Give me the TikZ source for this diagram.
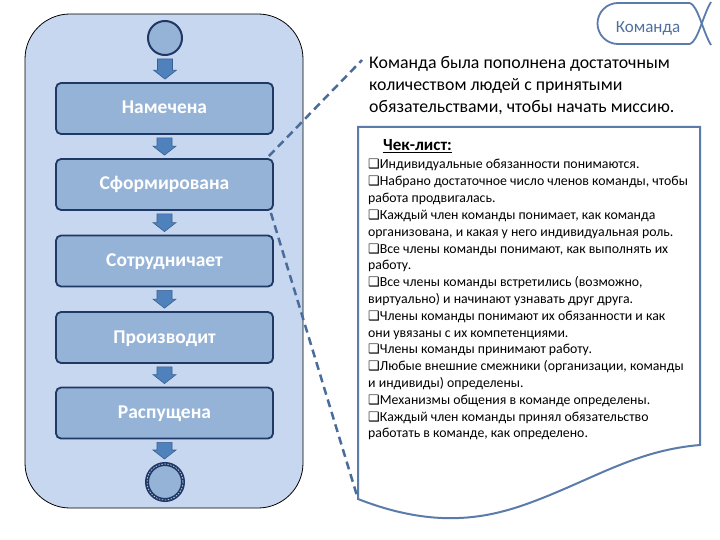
\documentclass[tikz,border=0pt]{standalone}
\usepackage{fontspec}
\setmainfont{Carlito}
\newfontfamily\dejavu{DejaVu Sans}
\usetikzlibrary{calc}
\definecolor{contfill}{HTML}{C6D7EF}
\definecolor{boxfill}{HTML}{95B3D7}
\definecolor{navy}{HTML}{1F3864}
\definecolor{arrfill}{HTML}{4F81BD}
\definecolor{arrdraw}{HTML}{3A5F8E}
\definecolor{connc}{HTML}{4A6C9B}
\definecolor{docc}{HTML}{5B7BAA}
\definecolor{tabtxt}{HTML}{4F6F9F}
\newcommand{\blkarrow}[2]{%
  \path[arrowsty] let \p1=($(#1.south)+(0,3)$), \p2=($(#2.north)+(0,-3)$) in
    (\x1-7.5pt,\y1) -- (\x1+7.5pt,\y1) -- (\x1+7.5pt,\y2+9pt) -- (\x1+11.5pt,\y2+9pt)
    -- (\x1,\y2) -- (\x1-11.5pt,\y2+9pt) -- (\x1-7.5pt,\y2+9pt) -- cycle;}
\newcommand{\cb}{{\dejavu\fontsize{13}{15}\selectfont ❑}}
\begin{document}
\begin{tikzpicture}[x=1pt,y=-1pt,
  container/.style={rectangle, rounded corners=45pt, fill=contfill, draw=black, line width=0.8pt, minimum width=278pt, minimum height=494pt},
  stage/.style={rectangle, rounded corners=5pt, fill=boxfill, draw=navy, line width=1.8pt, minimum width=217pt, minimum height=51pt, text=white, font=\bfseries\fontsize{19.5}{22}\selectfont, text height=13pt, text depth=2pt},
  startc/.style={circle, fill=boxfill, draw=navy, line width=2pt, minimum size=34pt, inner sep=0pt},
  endc/.style={circle, fill=boxfill, draw=navy, line width=4pt, minimum size=36pt, inner sep=0pt},
  arrowsty/.style={fill=arrfill, draw=arrdraw, line width=0.6pt},
  conn/.style={draw=connc, line width=2.5pt, dash pattern=on 8pt off 5pt},
  docsty/.style={fill=white, draw=docc, line width=2pt},
  desc/.style={anchor=base west, inner sep=0pt, font=\fontsize{17.8}{20}\selectfont},
  item/.style={anchor=base west, inner sep=0pt, font=\fontsize{13.8}{15}\selectfont},
]
\useasboundingbox (0,0) rectangle (720,540);
\fill[white] (0,0) rectangle (720,540);
% container
\node[container] (cont) at (164,261) {};
% nodes
\node[startc] (start) at (165,38) {};
\node[stage] (b1) at (164.5,108.5) {Намечена};
\node[stage] (b2) at (164.5,184.5) {Сформирована};
\node[stage] (b3) at (164.5,261) {Сотрудничает};
\node[stage] (b4) at (164.5,337.5) {Производит};
\node[stage] (b5) at (164.5,413) {Распущена};
\node[endc] (end) at (165,482) {};
\draw[contfill, line width=0.7pt, dash pattern=on 1.5pt off 1.5pt] (end.center) circle (18);
% arrows
\blkarrow{start}{b1}
\blkarrow{b1}{b2}
\blkarrow{b2}{b3}
\blkarrow{b3}{b4}
\blkarrow{b4}{b5}
\blkarrow{b5}{end}
% document shape
\coordinate (docbl) at (358,499);
\path[docsty] (358,127) -- (700,127) -- (700,445)
  .. controls (640,450) and (600,475) .. (545,497)
  .. controls (500,515) and (445,533) .. (docbl) -- cycle;
% dashed connectors
\coordinate (descr) at (362,60);
\draw[conn] ($(b2.north east)+(-5,-2)$) -- (descr);
\draw[conn] ($(b2.south east)+(-3,2)$) -- (docbl);
% description
\node[desc] (d1) at (369,69) {Команда была пополнена достаточным};
\node[desc] (d2) at (369,91) {количеством людей с принятыми};
\node[desc] (d3) at (369,113) {обязательствами, чтобы начать миссию.};
% checklist
\node[anchor=base west, inner sep=0pt, font=\bfseries\fontsize{17}{19}\selectfont] (chk) at (383,151) {\underline{Чек-лист:}};
\foreach \t [count=\i from 0] in {
  {\cb Индивидуальные обязанности понимаются.},
  {\cb Набрано достаточное число членов команды, чтобы},
  {работа продвигалась.},
  {\cb Каждый член команды понимает, как команда},
  {организована, и какая у него индивидуальная роль.},
  {\cb Все члены команды понимают, как выполнять их},
  {работу.},
  {\cb Все члены команды встретились (возможно,},
  {виртуально) и начинают узнавать друг друга.},
  {\cb Члены команды понимают их обязанности и как},
  {они увязаны с их компетенциями.},
  {\cb Члены команды принимают работу.},
  {\cb Любые внешние смежники (организации, команды},
  {и индивиды) определены.},
  {\cb Механизмы общения в команде определены.},
  {\cb Каждый член команды принял обязательство},
  {работать в команде, как определено.}}
  \node[item] (it\i) at (368,{169+16.8*\i}) {\t};
% tab
\path[fill=white] (618,3) -- (690,3) -- (700,23.5) -- (690,44) -- (618,44) arc[start angle=90, end angle=270, radius=20.5] -- cycle;
\draw[docc, line width=1.8pt] (690,3) -- (618,3) arc[start angle=270, end angle=90, radius=20.5] -- (690,44);
\draw[docc, line width=1.8pt] (690,3) .. controls (698,6) and (703,32) .. (711,45);
\draw[docc, line width=1.8pt] (690,44) .. controls (698,41) and (703,15) .. (711,2);
\node[anchor=base, inner sep=0pt, text=tabtxt, font=\fontsize{17}{20}\selectfont] (tab) at (648,32.5) {Команда};
\end{tikzpicture}
\end{document}
